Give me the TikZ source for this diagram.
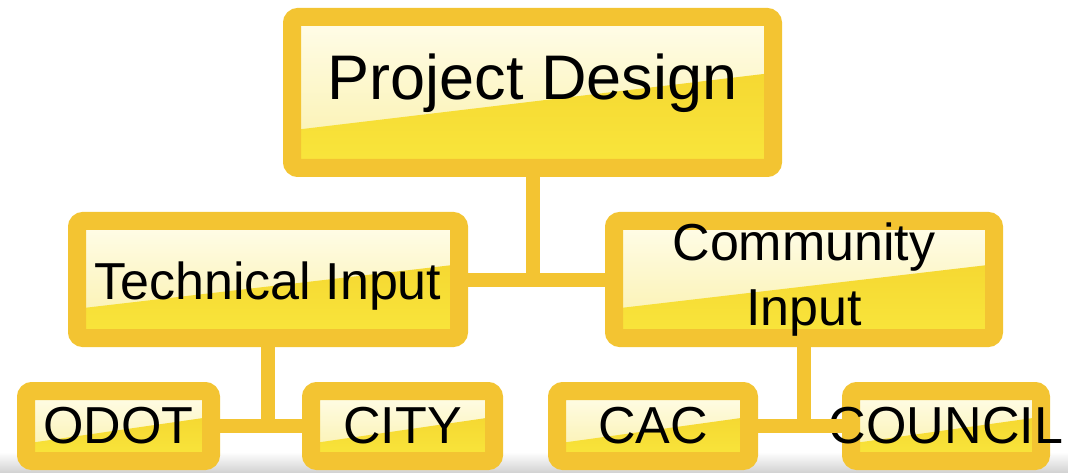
\documentclass[tikz,border=0pt]{standalone}
\usepackage{fontspec}
\setmainfont{Liberation Sans}
\usetikzlibrary{calc}

\definecolor{boxgold}{HTML}{F3C432}
\definecolor{glosstop}{HTML}{FFFDEA}
\definecolor{glossmid}{HTML}{FAF0A8}
\definecolor{glossdark}{HTML}{F3D02C}
\definecolor{glossbright}{HTML}{F9E63C}

\tikzset{
	goldbox/.style={draw=boxgold, line width=18pt, rounded corners=6pt, inner sep=0pt, align=center,
		top color=glosstop, bottom color=glossmid,
		path picture={
			\shade[top color=glossdark, bottom color=glossbright]
				(path picture bounding box.south west)
				-- ($(path picture bounding box.south west)!0.25!(path picture bounding box.north west)$)
				-- ($(path picture bounding box.south east)!0.63!(path picture bounding box.north east)$)
				-- (path picture bounding box.south east) -- cycle;
		}},
	goldlink/.style={draw=boxgold, line width=14pt},
	bigfont/.style={font=\fontsize{63}{70}\selectfont},
	midfont/.style={font=\fontsize{52}{65}\selectfont}
}

\begin{document}
\begin{tikzpicture}[x=1pt, y=-1pt]
				\useasboundingbox (0,0) rectangle (1068,473);
				\shade[top color=white, bottom color=black!18] (0,452) rectangle (1068,473);

				\node[goldbox, bigfont, minimum width=481pt, minimum height=151pt, text height=45pt, text depth=30pt] (design) at (532.5,92.5)	{Project Design};
				\node[goldbox, midfont, minimum width=382pt, minimum height=117pt, text height=39pt, text depth=0pt] (tech) at (268,279.5)		{Technical Input};
				\node[goldbox, midfont, minimum width=380pt, minimum height=117pt] (comm) at (804,279.5)			{Community\\Input};
				\node[goldbox, midfont, minimum width=185pt, minimum height=70pt] (odot) at (118.5,426)			{ODOT};
				\node[goldbox, midfont, minimum width=183pt, minimum height=70pt] (city) at (402.5,426)			{CITY};
				\node[goldbox, midfont, minimum width=192pt, minimum height=70pt] (cac) at (653,426)				{CAC};
				\node[goldbox, midfont, minimum width=190pt, minimum height=70pt] (council) at (946,426)			{\makebox[0pt]{COUNCIL}};

				\draw[goldlink] (design.south) -- (design.south |- tech.east);
				\draw[goldlink] (tech.east) -- (comm.west);
				\draw[goldlink] (tech.south) -- (tech.south |- odot.east);
				\draw[goldlink] (odot.east) -- (city.west);
				\draw[goldlink] (comm.south) -- (comm.south |- cac.east);
				\draw[goldlink] (cac.east) -- (council.west);

			\end{tikzpicture}
\end{document}
